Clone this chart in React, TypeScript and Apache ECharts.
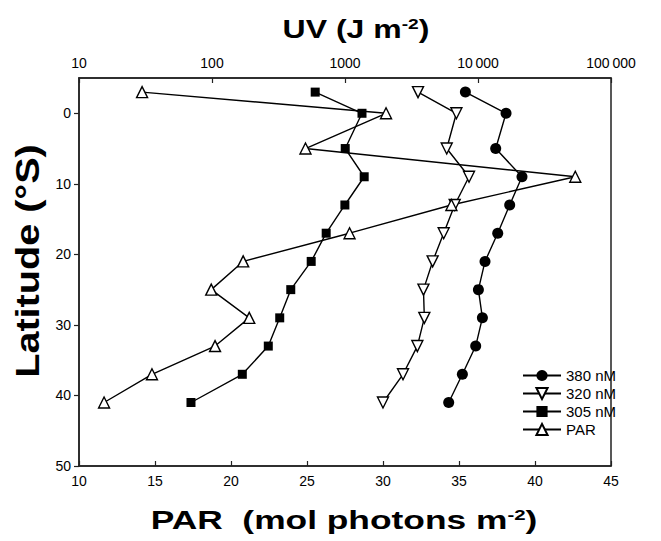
import React, { useEffect, useRef } from "react";
import * as echarts from "echarts";

// Latitude (°S) of each station
const latitude = [-3, 0, 5, 9, 13, 17, 21, 25, 29, 33, 37, 41];
// UV doses (J m-2) — top log axis
const uv380 = [8040, 16250, 13590, 21420, 17310, 14070, 11290, 10070, 10790, 9610, 7630, 6020];
const uv320 = [3540, 6880, 5820, 8560, 6680, 5520, 4560, 3890, 3950, 3500, 2730, 1930];
const uv305 = [597, 1342, 1004, 1394, 998, 722, 557, 391, 323, 265, 169, 69.5];
// PAR (mol photons m-2) — bottom linear axis
const par = [14.15, 30.2, 24.9, 42.65, 34.5, 27.8, 20.8, 18.7, 21.2, 18.95, 14.8, 11.65];

const latTicks = [0, 10, 20, 30, 40, 50];

const FONT = "'Liberation Sans', Arial, Helvetica, sans-serif";
const INK = "#000";
const AXIS = "#222";

function pairs(xs: number[]) {
  return xs.map((x, i) => [x, latitude[i]]);
}

export default function App() {
  const ref = useRef<HTMLDivElement>(null);
  useEffect(() => {
    if (!ref.current) return;
    const chart = echarts.init(ref.current, undefined, { renderer: "svg" });
    const tickLabel = { fontFamily: FONT, fontSize: 14, color: INK };
    const lineSeries = (
      name: string,
      xAxisIndex: number,
      data: number[][],
      symbol: string,
      size: number,
      filled: boolean,
      rotate = 0
    ) => ({
      name,
      type: "line",
      xAxisIndex,
      yAxisIndex: 0,
      data,
      symbol,
      symbolSize: size,
      symbolRotate: rotate,
      showAllSymbol: true,
      lineStyle: { color: INK, width: 1.4 },
      itemStyle: {
        color: filled ? INK : "#fff",
        borderColor: INK,
        borderWidth: filled ? 0 : 1.4,
      },
      emphasis: { disabled: true },
      z: 3,
    });
    chart.setOption({
      animation: false,
      grid: {
        left: 79,
        right: 50,
        top: 78,
        bottom: 75,
        show: true,
        borderColor: AXIS,
        borderWidth: 1.5,
        backgroundColor: "transparent",
      },
      legend: {
        orient: "vertical",
        left: 517,
        top: 363,
        itemWidth: 38,
        itemHeight: 14,
        itemGap: 3,
        textStyle: { fontFamily: FONT, fontSize: 15, color: INK },
        data: ["380 nM", "320 nM", "305 nM", "PAR"],
      },
      xAxis: [
        {
          type: "value",
          position: "bottom",
          min: 10,
          max: 45,
          interval: 5,
          axisLine: { show: true, onZero: false, lineStyle: { color: AXIS, width: 1.5 } },
          axisTick: { show: true, inside: true, length: 5, lineStyle: { color: AXIS, width: 1.2 } },
          axisLabel: { ...tickLabel, margin: 8 },
          splitLine: { show: false },
        },
        {
          type: "log",
          logBase: 10,
          position: "top",
          min: 10,
          max: 100000,
          axisLine: { show: true, onZero: false, lineStyle: { color: AXIS, width: 1.5 } },
          axisTick: { show: true, inside: true, length: 5, lineStyle: { color: AXIS, width: 1.2 } },
          axisLabel: {
            ...tickLabel,
            margin: 8,
            formatter: (v: number) => {
              const s = String(Math.round(v));
              return v >= 10000 ? s.slice(0, s.length - 3) + "\u2009" + s.slice(-3) : s;
            },
          },
          minorTick: { show: false },
          splitLine: { show: false },
        },
      ],
      yAxis: [
        {
          type: "value",
          inverse: true,
          min: -5,
          max: 50,
          interval: 5,
          axisLine: { show: true, onZero: false, lineStyle: { color: AXIS, width: 1.5 } },
          axisTick: {
            show: true,
            inside: false,
            length: 5,
            customValues: latTicks,
            lineStyle: { color: AXIS, width: 1.2 },
          },
          axisLabel: { ...tickLabel, margin: 8, customValues: latTicks },
          splitLine: { show: false },
        },
      ],
      series: [
        lineSeries("380 nM", 1, pairs(uv380), "circle", 11, true),
        lineSeries("320 nM", 1, pairs(uv320), "triangle", 11, false, 180),
        lineSeries("305 nM", 1, pairs(uv305), "rect", 9, true),
        lineSeries("PAR", 0, pairs(par), "triangle", 11, false),
      ],
      graphic: [
        {
          type: "text",
          x: 356,
          y: 29,
          scaleX: 1.28,
          style: {
            text: "{b|UV (J m}{s|-2}{b|)}",
            align: "center",
            verticalAlign: "middle",
            rich: {
              b: { fontFamily: FONT, fontSize: 25, fontWeight: "bold", fill: INK },
              s: { fontFamily: FONT, fontSize: 15, fontWeight: "bold", fill: INK, verticalAlign: "top", padding: [0, 0, 10, 0] },
            },
          },
        },
        {
          type: "text",
          x: 28,
          y: 261,
          rotation: Math.PI / 2,
          scaleX: 1.2,
          style: {
            text: "Latitude (°S)",
            align: "center",
            verticalAlign: "middle",
            fontFamily: FONT,
            fontSize: 33,
            fontWeight: "bold",
            fill: INK,
          },
        },
        {
          type: "text",
          x: 344,
          y: 520,
          scaleX: 1.36,
          style: {
            text: "{b|PAR  (mol photons m}{s|-2}{b|)}",
            align: "center",
            verticalAlign: "middle",
            rich: {
              b: { fontFamily: FONT, fontSize: 26, fontWeight: "bold", fill: INK },
              s: { fontFamily: FONT, fontSize: 15, fontWeight: "bold", fill: INK, verticalAlign: "top", padding: [0, 0, 10, 0] },
            },
          },
        },
      ],
    });
    return () => chart.dispose();
  }, []);
  return (
    <div
      ref={ref}
      style={{ position: "absolute", left: 0, top: 0, width: 661, height: 541 }}
    />
  );
}
